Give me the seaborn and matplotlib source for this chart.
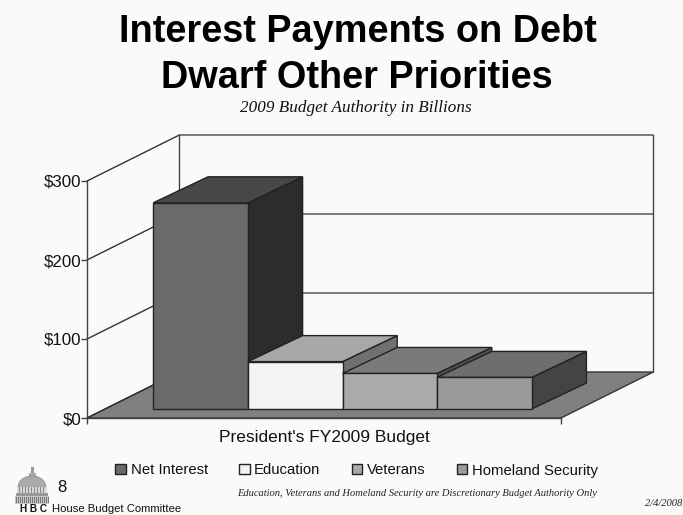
import matplotlib
matplotlib.use("Agg")
import matplotlib.pyplot as plt
from matplotlib.patches import Polygon, Rectangle, Ellipse
import pandas as pd
import seaborn as sns

# Budget authority, billions of dollars
category = "President's FY2009 Budget"
programs = ["Net Interest", "Education", "Veterans", "Homeland Security"]
amounts = [261, 60, 45, 40]
axis_ticks = [0, 100, 200, 300]
tick_labels = ["$0", "$100", "$200", "$300"]

W, H = 683, 515
PAPER = "#fafafa"
EDGE = "#222222"
front_colors = ["#6a6a6a", "#f3f3f3", "#aaaaaa", "#9a9a9a"]
top_colors = ["#484848", "#a8a8a8", "#7a7a7a", "#6e6e6e"]
side_colors = ["#2c2c2c", "#707070", "#505050", "#444444"]

sns.set_theme(style="white", rc={"figure.facecolor": PAPER, "savefig.facecolor": PAPER})
SANS = "Liberation Sans"
SERIF = "Liberation Serif"
plt.rcParams["font.family"] = SANS

fig = plt.figure(figsize=(W / 100, H / 100), dpi=100)


def box(left, top, right, bottom):
    """Axes rectangle from pixel edges measured from the top left."""
    return [left / W, 1 - bottom / H, (right - left) / W, (bottom - top) / H]


def label(x, y, s, **kw):
    fig.text(x / W, 1 - y / H, s, va="center", **kw)


# Walls and floor of the chart box, in the front plane of the axis
wall = fig.add_axes(box(87, 181, 561, 418), zorder=1)
wall.patch.set_alpha(0)
wall.set_xlim(0, 1)
wall.set_ylim(0, 300)
WALL_DX, WALL_DY = 92.3 / 474, 58.2
wall.add_patch(Polygon([(0, 0), (WALL_DX, WALL_DY), (1 + WALL_DX, WALL_DY), (1, 0)],
                       closed=True, fc="#808080", ec="#333333", lw=1, clip_on=False, zorder=1))
for v in axis_ticks:
    wall.plot([0, WALL_DX], [v, v + WALL_DY], color="#333333", lw=1, clip_on=False, zorder=2)
    if v:
        wall.plot([WALL_DX, 1 + WALL_DX], [v + WALL_DY, v + WALL_DY], color="#666666", lw=1.2,
                  clip_on=False, zorder=2)
wall.plot([WALL_DX, WALL_DX], [WALL_DY, 300 + WALL_DY], color="#444444", lw=1, clip_on=False, zorder=2)
wall.plot([1 + WALL_DX, 1 + WALL_DX], [WALL_DY, 300 + WALL_DY], color="#444444", lw=1, clip_on=False, zorder=2)
for name in ("top", "right"):
    wall.spines[name].set_visible(False)
for name in ("left", "bottom"):
    wall.spines[name].set_color("#444444")
    wall.spines[name].set_linewidth(1)
wall.set_yticks(axis_ticks, tick_labels, fontsize=12.2, color="#111111")
wall.set_xticks([0, 1], ["", ""])
wall.tick_params(axis="y", left=True, length=4, width=1, color="#444444", pad=0)
wall.tick_params(axis="x", bottom=True, length=4, width=1, color="#444444")
wall.set_xlabel(category, fontsize=12.5, color="#111111", labelpad=1)

# Columns stand a little behind the axis plane
frame = pd.DataFrame({"budget": [category] * len(programs), "program": programs, "amount": amounts})
ax = fig.add_axes(box(106, 172, 579, 409), zorder=2)
ax.patch.set_alpha(0)
sns.barplot(data=frame, x="budget", y="amount", hue="program", hue_order=programs,
            palette=dict(zip(programs, front_colors)), saturation=1, width=0.8,
            edgecolor=EDGE, linewidth=1, ax=ax)
ax.set_xlim(-0.5, 0.5)
ax.set_ylim(0, 300)

# Extrude each column backwards; later columns overlap earlier sides
BAR_DX, BAR_DY = 54.7 / 473, 32.9
for i, container in enumerate(ax.containers):
    for bar in container:
        x0, x1 = bar.get_x(), bar.get_x() + bar.get_width()
        h = bar.get_height()
        z = 10 + i
        bar.set_zorder(z + 0.2)
        bar.set_clip_on(False)
        ax.add_patch(Polygon([(x1, 0), (x1 + BAR_DX, BAR_DY), (x1 + BAR_DX, h + BAR_DY), (x1, h)],
                             closed=True, fc=side_colors[i], ec=EDGE, lw=1, clip_on=False, zorder=z))
        ax.add_patch(Polygon([(x0, h), (x0 + BAR_DX, h + BAR_DY), (x1 + BAR_DX, h + BAR_DY), (x1, h)],
                             closed=True, fc=top_colors[i], ec=EDGE, lw=1, clip_on=False, zorder=z + 0.1))

sns.move_legend(ax, "center left", bbox_to_anchor=(108 / W, 1 - 470.5 / H),
                bbox_transform=fig.transFigure, ncol=4, title=None, frameon=False,
                fontsize=10.7, handlelength=0.72, handleheight=0.65, handletextpad=0.3,
                columnspacing=2.1, borderpad=0, labelcolor="#111111")
ax.set_axis_off()

# Headings and footer
label(358, 32, "Interest Payments on Debt", ha="center", fontsize=27.3, fontweight="bold", color="black")
label(357, 78, "Dwarf Other Priorities", ha="center", fontsize=27.3, fontweight="bold", color="black")
label(356, 108, "2009 Budget Authority in Billions", ha="center", fontsize=12.3, style="italic",
      family=SERIF, color="#111111")
label(417.5, 493, "Education, Veterans and Homeland Security are Discretionary Budget Authority Only",
      ha="center", fontsize=7.6, style="italic", family=SERIF, color="#222222")
label(682, 503.5, "2/4/2008", ha="right", fontsize=7.6, style="italic", family=SERIF, color="#222222")
label(57, 487, "8", ha="left", fontsize=12, color="#111111")
label(52, 509, "House Budget Committee", ha="left", fontsize=8.1, color="#111111")
label(20, 509.5, "H B C", ha="left", fontsize=7.2, fontweight="bold", color="#111111")

# Capitol emblem, drawn on an overlay measured in pixels
logo = fig.add_axes([0, 0, 1, 1], zorder=3)
logo.set_xlim(0, W)
logo.set_ylim(H, 0)
logo.set_axis_off()
logo.patch.set_alpha(0)
logo.add_patch(Rectangle((30.5, 467), 3, 8, fc="#999999", ec="none"))
logo.add_patch(Rectangle((28.5, 473), 7, 4, fc="#aaaaaa", ec="none"))
logo.add_patch(Ellipse((32, 487), 28, 22, fc="#aaaaaa", ec="#888888", lw=0.5))
logo.add_patch(Rectangle((17, 487), 30, 7, fc="#d8d8d8", ec="none"))
for px in range(19, 46, 3):
    logo.add_patch(Rectangle((px, 487), 1.4, 7, fc="#888888", ec="none"))
logo.add_patch(Rectangle((16, 493), 32, 3, fc="#999999", ec="none"))
logo.add_patch(Rectangle((15, 496), 34, 8, fc="#c4c4c4", ec="none"))
for px in range(16, 49, 2):
    logo.add_patch(Rectangle((px, 497), 1, 6, fc="#777777", ec="none"))

fig.savefig("out.png", dpi=100)
